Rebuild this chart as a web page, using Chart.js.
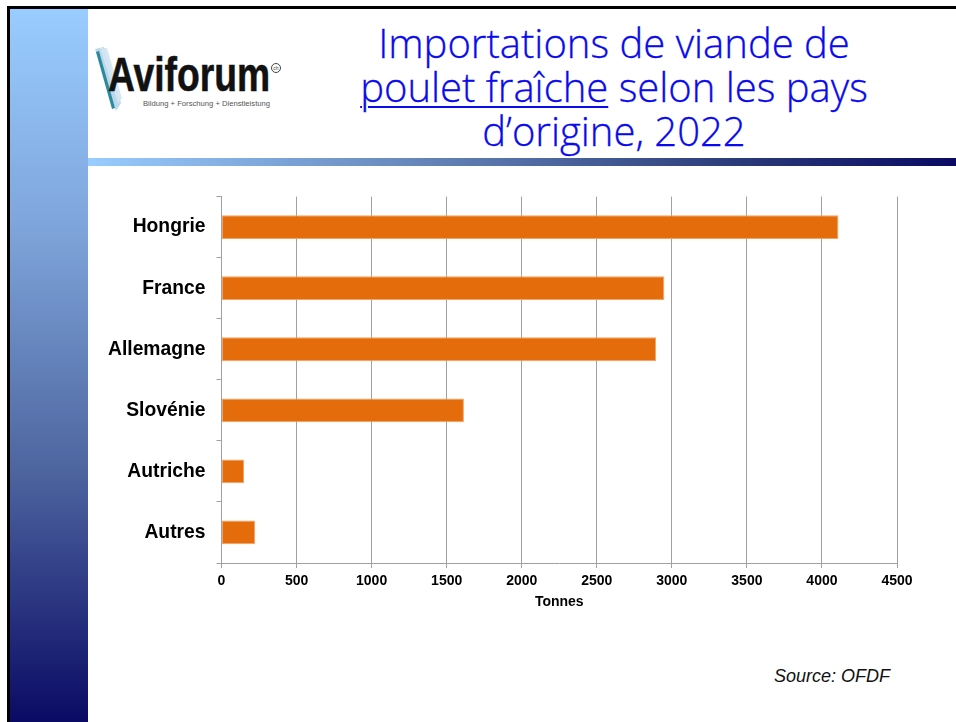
<!DOCTYPE html>
<html>
<head>
<meta charset="utf-8">
<script src="https://cdn.jsdelivr.net/npm/chart.js@4/dist/chart.umd.min.js"></script>
<style>
  html, body { margin:0; padding:0; background:#fff; }
  #page { position:relative; width:956px; height:722px; overflow:hidden; background:#fff; }
  #topline { position:absolute; left:7px; top:6px; width:949px; height:3px; background:#000; }
  #leftline { position:absolute; left:7px; top:6px; width:3px; height:716px; background:#000; }
  #sidebar { position:absolute; left:10px; top:9px; width:78px; height:713px;
             background:linear-gradient(to bottom, #99CCFF 0%, #7fa6dc 30%, #4d649f 65%, #0a0a64 100%); }
  #rule { position:absolute; left:88px; top:158px; width:868px; height:8px;
          background:linear-gradient(to right, #99CCFF 0%, #6a8cc0 35%, #2a3a78 75%, #0a0a64 100%); }
  #title { position:absolute; left:300px; top:21px; width:628px; text-align:center;
           font-family:"Open Sans", sans-serif; font-weight:300; color:#0a0aee;
           font-size:40px; line-height:44px; white-space:nowrap; -webkit-text-stroke:0.3px #0a0aee; }
  #title u { text-decoration-thickness:2px; text-underline-offset:4px; }
  #source { position:absolute; left:700px; top:666px; width:190px; text-align:right;
            font-family:"Liberation Sans", Arial, sans-serif; font-style:italic; font-size:18px; color:#111; }
  #logo { position:absolute; left:90px; top:40px; }
  #chartbox { position:absolute; left:90px; top:174px; width:866px; height:450px; }
</style>
</head>
<body>
<div id="page">
  <div id="sidebar"></div>
  <div id="topline"></div>
  <div id="leftline"></div>
  <div id="rule"></div>
  <svg id="logo" width="200" height="80" viewBox="90 40 200 80">
    <polygon points="95,49 104,47 121,103 116,111" fill="#a9cde6" opacity="0.8"/>
    <polygon points="100,48 107,48 122,98 118,104" fill="#d4e6f2" opacity="0.9"/>
    <polygon points="96,52 99,51 115,108 112,109" fill="#2b8a9c"/>
    <text x="108" y="91" font-family="Liberation Sans, Arial, sans-serif" font-weight="bold" font-size="48" fill="#111"
          stroke="#111" stroke-width="0.6" textLength="162" lengthAdjust="spacingAndGlyphs">Aviforum</text>
    <circle cx="276" cy="68" r="4.5" fill="none" stroke="#444" stroke-width="1"/>
    <text x="276" y="70" font-family="Liberation Sans, Arial, sans-serif" font-size="5" fill="#444" text-anchor="middle">ch</text>
    <text x="143" y="106" font-family="Liberation Sans, Arial, sans-serif" font-size="8" fill="#555"
          textLength="127" lengthAdjust="spacingAndGlyphs">Bildung + Forschung + Dienstleistung</text>
  </svg>
  <div id="title">Importations de viande de<br><u>poulet fraîche</u> selon les pays<br>d’origine, 2022</div>
  <div id="chartbox"><canvas id="c" width="866" height="450"></canvas></div>
  <div id="source">Source: OFDF</div>
</div>
<script>
const categories = ["Hongrie", "France", "Allemagne", "Slovénie", "Autriche", "Autres"];
const tonnes = [4110, 2950, 2895, 1615, 150, 225];
const xTicks = [0, 500, 1000, 1500, 2000, 2500, 3000, 3500, 4000, 4500];
const xTitle = "Tonnes";

const ctx = document.getElementById('c').getContext('2d');
new Chart(ctx, {
  type: 'bar',
  data: {
    labels: categories,
    datasets: [{
      data: tonnes,
      backgroundColor: '#E46C0A',
      borderColor: '#F2A468',
      borderWidth: 1,
      borderSkipped: false,
      barPercentage: 0.39,
      categoryPercentage: 1.0
    }]
  },
  options: {
    indexAxis: 'y',
    responsive: false,
    animation: false,
    devicePixelRatio: 1,
    layout: { padding: { left: 0, top: 10, right: 59, bottom: 11 } },
    plugins: { legend: { display: false }, tooltip: { enabled: false } },
    scales: {
      x: {
        type: 'linear',
        min: xTicks[0],
        max: xTicks[xTicks.length - 1],
        afterBuildTicks: (s) => { s.ticks = xTicks.map(v => ({ value: v })); },
        afterFit: (s) => { s.height = 50; },
        grid: { color: '#a0a0a0', lineWidth: 1, tickLength: 5, drawTicks: true },
        border: { display: true, color: '#a0a0a0', width: 1 },
        ticks: {
          padding: 5,
          color: '#000',
          callback: (v) => String(v),
          font: { family: 'Liberation Sans, Arial, sans-serif', weight: 'bold', size: 14 }
        },
        title: {
          display: true,
          text: xTitle,
          color: '#000',
          padding: { top: 4, bottom: 2 },
          font: { family: 'Liberation Sans, Arial, sans-serif', weight: 'bold', size: 14 }
        }
      },
      y: {
        afterFit: (s) => { s.width = 131.5; },
        grid: { offset: true, drawOnChartArea: false, color: '#a0a0a0', tickLength: 5 },
        border: { display: true, color: '#a0a0a0', width: 1 },
        ticks: {
          padding: 11,
          color: '#000',
          font: { family: 'Liberation Sans, Arial, sans-serif', weight: 'bold', size: 19.3 }
        }
      }
    }
  }
});
</script>
</body>
</html>
